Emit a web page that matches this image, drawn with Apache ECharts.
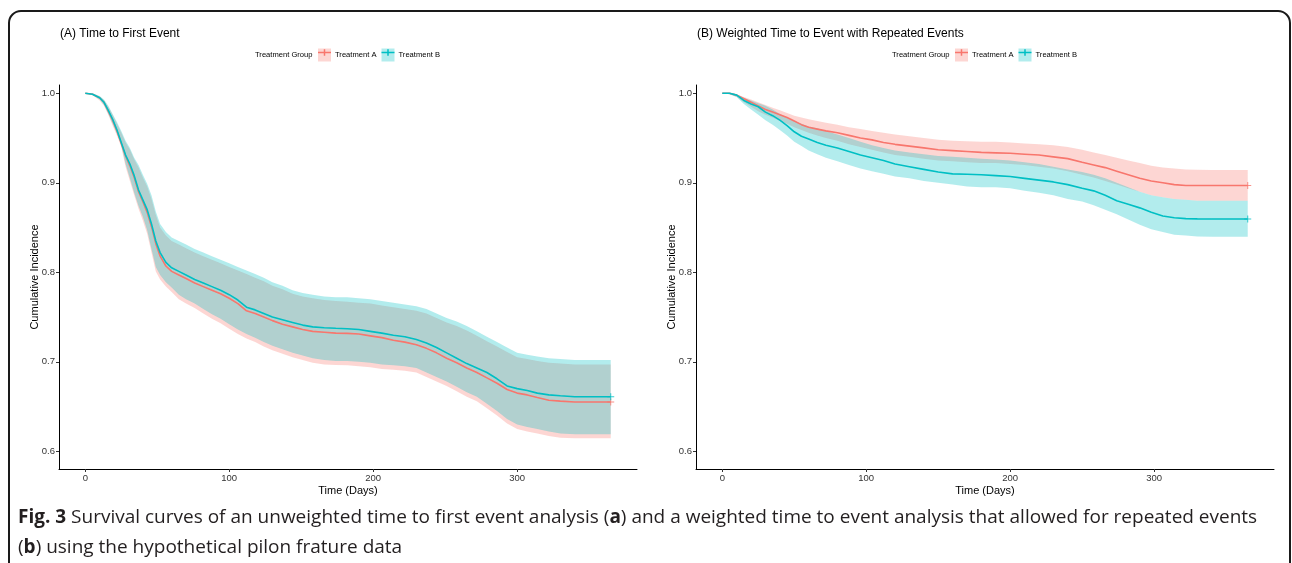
<!DOCTYPE html>
<html>
<head>
<meta charset="utf-8">
<script src="https://cdn.jsdelivr.net/npm/echarts@6/dist/echarts.min.js"></script>
<style>
  html, body { margin: 0; padding: 0; background: #fff; }
  #chart { width: 1292px; height: 563px; }
</style>
</head>
<body>
<div id="chart"></div>
<script>
// Panel A: time to first event
const timesA = [0,5,10,13,16,19,22,25,28,31,34,37,40,43,46,49,52,56,60,65,70,76,82,88,94,100,106,112,118,124,130,137,144,151,158,166,174,182,190,198,206,214,222,230,237,244,251,258,265,272,279,286,293,300,307,314,322,330,340,350,365];
const survA_trtA = [1.000,0.999,0.995,0.990,0.980,0.970,0.958,0.944,0.930,0.919,0.906,0.890,0.879,0.867,0.851,0.832,0.818,0.807,0.801,0.797,0.793,0.788,0.784,0.780,0.776,0.771,0.765,0.757,0.754,0.750,0.746,0.742,0.739,0.736,0.734,0.733,0.732,0.7318,0.731,0.729,0.727,0.724,0.722,0.719,0.715,0.710,0.704,0.699,0.693,0.688,0.682,0.676,0.669,0.665,0.663,0.660,0.657,0.656,0.655,0.655,0.655];
const upperA_trtA = [1.000,1.000,0.996,0.992,0.985,0.976,0.966,0.956,0.945,0.937,0.926,0.917,0.906,0.896,0.882,0.864,0.850,0.841,0.835,0.831,0.827,0.822,0.818,0.814,0.810,0.806,0.802,0.798,0.794,0.790,0.785,0.781,0.776,0.773,0.771,0.769,0.768,0.767,0.766,0.765,0.763,0.761,0.759,0.757,0.754,0.749,0.744,0.740,0.735,0.729,0.723,0.717,0.711,0.705,0.703,0.701,0.699,0.698,0.697,0.697,0.697];
const lowerA_trtA = [1.000,0.998,0.992,0.986,0.976,0.964,0.953,0.940,0.918,0.902,0.886,0.871,0.858,0.843,0.822,0.801,0.792,0.784,0.778,0.770,0.765,0.760,0.754,0.748,0.743,0.737,0.731,0.726,0.722,0.717,0.713,0.709,0.705,0.702,0.699,0.697,0.6964,0.696,0.695,0.694,0.692,0.691,0.690,0.688,0.683,0.678,0.673,0.667,0.661,0.656,0.648,0.640,0.631,0.625,0.622,0.620,0.617,0.615,0.6145,0.6145,0.6145];
const survA_trtB = [1.000,0.999,0.995,0.990,0.981,0.971,0.959,0.945,0.931,0.921,0.908,0.892,0.881,0.870,0.854,0.835,0.822,0.811,0.805,0.801,0.797,0.792,0.788,0.784,0.780,0.775,0.769,0.761,0.758,0.754,0.750,0.747,0.744,0.741,0.739,0.738,0.7374,0.737,0.736,0.734,0.732,0.7296,0.728,0.725,0.721,0.716,0.710,0.704,0.698,0.693,0.688,0.681,0.673,0.670,0.668,0.665,0.663,0.662,0.661,0.661,0.661];
const upperA_trtB = [1.000,1.000,0.997,0.993,0.986,0.977,0.968,0.958,0.947,0.939,0.928,0.920,0.909,0.899,0.886,0.868,0.854,0.845,0.839,0.835,0.831,0.826,0.822,0.818,0.814,0.810,0.806,0.802,0.798,0.794,0.789,0.785,0.780,0.777,0.775,0.773,0.772,0.772,0.771,0.770,0.768,0.766,0.764,0.762,0.759,0.754,0.749,0.745,0.740,0.734,0.728,0.722,0.716,0.710,0.708,0.706,0.704,0.703,0.702,0.702,0.702];
const lowerA_trtB = [1.000,0.998,0.993,0.987,0.977,0.966,0.955,0.942,0.921,0.905,0.889,0.874,0.862,0.847,0.826,0.806,0.797,0.789,0.783,0.775,0.770,0.765,0.759,0.753,0.748,0.742,0.736,0.731,0.727,0.722,0.718,0.714,0.710,0.707,0.704,0.702,0.701,0.701,0.700,0.699,0.697,0.696,0.695,0.693,0.688,0.683,0.678,0.672,0.666,0.661,0.653,0.645,0.636,0.630,0.627,0.625,0.622,0.620,0.619,0.619,0.619];

// Panel B: weighted time to event with repeated events
const timesB = [0,5,10,15,20,25,30,35,40,45,50,55,60,66,72,80,88,96,104,112,120,130,140,150,160,170,180,190,200,210,220,230,240,250,258,266,274,282,290,298,306,314,322,330,340,350,365];
const survB_trtA = [1.000,1.000,0.998,0.994,0.990,0.986,0.982,0.979,0.976,0.973,0.969,0.965,0.962,0.960,0.958,0.956,0.953,0.950,0.948,0.945,0.943,0.941,0.939,0.937,0.936,0.935,0.934,0.9335,0.933,0.932,0.931,0.929,0.927,0.923,0.920,0.917,0.913,0.909,0.905,0.902,0.900,0.898,0.897,0.897,0.897,0.897,0.897];
const upperB_trtA = [1.000,1.000,0.999,0.996,0.993,0.990,0.987,0.984,0.981,0.978,0.975,0.973,0.971,0.969,0.967,0.965,0.962,0.960,0.958,0.956,0.954,0.952,0.950,0.948,0.947,0.9465,0.946,0.946,0.945,0.944,0.943,0.942,0.940,0.937,0.934,0.931,0.928,0.925,0.922,0.919,0.917,0.916,0.915,0.9145,0.9143,0.9143,0.9143];
const lowerB_trtA = [1.000,0.999,0.996,0.990,0.985,0.980,0.976,0.973,0.969,0.966,0.962,0.959,0.956,0.953,0.950,0.947,0.943,0.940,0.937,0.934,0.931,0.929,0.927,0.925,0.924,0.923,0.922,0.922,0.921,0.920,0.918,0.916,0.913,0.909,0.906,0.902,0.898,0.894,0.890,0.886,0.884,0.882,0.881,0.880,0.880,0.880,0.880];
const survB_trtB = [1.000,1.000,0.998,0.992,0.988,0.985,0.979,0.975,0.970,0.964,0.957,0.952,0.949,0.945,0.942,0.939,0.935,0.931,0.928,0.925,0.921,0.918,0.915,0.912,0.910,0.9095,0.909,0.908,0.907,0.905,0.903,0.901,0.898,0.894,0.891,0.886,0.880,0.876,0.872,0.867,0.863,0.861,0.860,0.8597,0.8596,0.8596,0.8596];
const upperB_trtB = [1.000,1.000,0.999,0.995,0.992,0.989,0.986,0.982,0.977,0.973,0.969,0.966,0.963,0.961,0.958,0.954,0.950,0.946,0.942,0.939,0.936,0.934,0.932,0.930,0.929,0.928,0.927,0.926,0.925,0.923,0.921,0.918,0.915,0.912,0.909,0.905,0.900,0.895,0.890,0.886,0.884,0.882,0.881,0.880,0.880,0.880,0.880];
const lowerB_trtB = [1.000,0.999,0.996,0.988,0.982,0.976,0.970,0.965,0.959,0.953,0.946,0.941,0.936,0.932,0.928,0.924,0.920,0.916,0.913,0.910,0.907,0.905,0.902,0.900,0.898,0.896,0.895,0.895,0.894,0.891,0.889,0.886,0.882,0.879,0.875,0.870,0.865,0.859,0.853,0.848,0.845,0.842,0.841,0.840,0.8398,0.8398,0.8398];

const xTicks = [0, 100, 200, 300];
const yTicks = [0.6, 0.7, 0.8, 0.9, 1.0];
const groupNames = ["Treatment A", "Treatment B"];
const colors = ["#F8766D", "#00BFC4"];
const fills = ["rgba(248,118,109,0.3)", "rgba(0,191,196,0.3)"];

const FONT = "Liberation Sans, Arial, sans-serif";
const plusIcon = "path://M0,6h5.75v-2.5h1.5v2.5h5.75v1.5h-5.75v2.5h-1.5v-2.5h-5.75z";
const censorMark = "path://M3,0h1v3h3v1h-3v3h-1v-3h-3v-1h3z";

const panels = [
  { times: timesA, groups: [
    { surv: survA_trtA, lower: lowerA_trtA, upper: upperA_trtA },
    { surv: survA_trtB, lower: lowerA_trtB, upper: upperA_trtB } ] },
  { times: timesB, groups: [
    { surv: survB_trtA, lower: lowerB_trtA, upper: upperB_trtA },
    { surv: survB_trtB, lower: lowerB_trtB, upper: upperB_trtB } ] },
];

const pair = (xs, ys) => xs.map((x, i) => [x, ys[i]]);

// confidence ribbon: one polygon through the axis scales
function ribbon(pi, gi, rows) {
  return {
    type: "custom", xAxisIndex: pi, yAxisIndex: pi, silent: true, clip: true,
    data: rows,
    encode: { x: 0, y: [1, 2] },
    renderItem: (params, api) => {
      if (params.dataIndex !== 0) return null;
      const top = rows.map(r => api.coord([r[0], r[2]]));
      const bottom = rows.map(r => api.coord([r[0], r[1]])).reverse();
      return {
        type: "polygon",
        shape: { points: top.concat(bottom) },
        style: { fill: colors[gi], opacity: 0.3 },
      };
    },
  };
}

const series = [];
panels.forEach((p, pi) => {
  p.groups.forEach((g, gi) => {
    series.push(ribbon(pi, gi, p.times.map((t, i) => [t, g.lower[i], g.upper[i]])));
    series.push({
      name: groupNames[gi], type: "line", xAxisIndex: pi, yAxisIndex: pi,
      symbol: "none", lineStyle: { color: colors[gi], width: 1.6 },
      itemStyle: { color: colors[gi] },
      data: pair(p.times, g.surv),
    });
    const last = p.times.length - 1;
    series.push({
      type: "scatter", xAxisIndex: pi, yAxisIndex: pi, symbol: censorMark, symbolSize: 7,
      itemStyle: { color: colors[gi] }, silent: true,
      data: [[p.times[last], g.surv[last]]],
    });
  });
});

const gridLefts = [59, 696];
const grid = gridLefts.map(l => ({ left: l, top: 85, width: 578, height: 384 }));

const axisCommon = {
  axisLine: { onZero: false, lineStyle: { color: "#000", width: 1 } },
  axisTick: { length: 3, lineStyle: { color: "#333" } },
  splitLine: { show: false },
  nameMoveOverlap: false,
  nameTextStyle: { color: "#000", fontSize: 11, fontFamily: FONT },
};

const xAxis = gridLefts.map((l, i) => Object.assign({}, axisCommon, {
  type: "value", gridIndex: i, min: -18.25, max: 383.25,
  name: "Time (Days)", nameLocation: "middle", nameGap: 16,
  axisTick: Object.assign({}, axisCommon.axisTick, { customValues: xTicks }),
  axisLabel: { customValues: xTicks, color: "#333", fontSize: 9.5, margin: 4, fontFamily: FONT },
}));

const yAxis = gridLefts.map((l, i) => Object.assign({}, axisCommon, {
  type: "value", gridIndex: i, min: 0.5802, max: 1.0093,
  name: "Cumulative Incidence", nameLocation: "middle", nameGap: 19, nameRotate: 90,
  axisTick: Object.assign({}, axisCommon.axisTick, { customValues: yTicks }),
  axisLabel: { customValues: yTicks, color: "#333", fontSize: 9.5, margin: 4, fontFamily: FONT,
    formatter: v => v.toFixed(1) },
}));

const titles = [];
const panelTitles = ["(A) Time to First Event", "(B) Weighted Time to Event with Repeated Events"];
gridLefts.forEach((l, i) => {
  titles.push({ text: panelTitles[i], left: l + 1, top: 28, padding: 0,
    textStyle: { fontSize: 12, fontWeight: "normal", color: "#000", fontFamily: FONT } });
  titles.push({ text: "Treatment Group", left: l + 196, top: 50.5, padding: 0,
    textStyle: { fontSize: 7.6, fontWeight: "normal", color: "#000", fontFamily: FONT } });
});

const legend = [];
gridLefts.forEach((l, i) => {
  const base = { left: l + 259, top: 48.5, itemWidth: 13, itemHeight: 13, itemGap: 5,
    padding: 0, selectedMode: false, symbolKeepAspect: true,
    textStyle: { fontSize: 7.6, color: "#000", fontFamily: FONT, padding: [0, 0, 0, -1] } };
  legend.push(Object.assign({}, base, {
    data: groupNames.map((n, gi) => ({ name: n, icon: "rect",
      itemStyle: { color: fills[gi], borderWidth: 0 } })),
  }));
  legend.push(Object.assign({}, base, {
    textStyle: Object.assign({}, base.textStyle, { color: "rgba(0,0,0,0)" }),
    data: groupNames.map((n, gi) => ({ name: n, icon: plusIcon,
      itemStyle: { color: colors[gi], borderWidth: 0 } })),
  }));
});

const chart = echarts.init(document.getElementById("chart"), null, { renderer: "canvas" });
chart.setOption({
  animation: false,
  title: titles,
  legend: legend,
  grid: grid,
  xAxis: xAxis,
  yAxis: yAxis,
  series: series,
  graphic: [
    { type: "rect", silent: true, z: 100,
      shape: { x: 9, y: 11, width: 1281, height: 620, r: 12 },
      style: { fill: "none", stroke: "#1a1a1a", lineWidth: 2 } },
    { type: "text", left: 18, top: 503, silent: true,
      style: {
        text: "{b|Fig. 3} Survival curves of an unweighted time to first event analysis ({b|a}) and a weighted time to event analysis that allowed for repeated events\n({b|b}) using the hypothetical pilon frature data",
        fontSize: 19, lineHeight: 30, fill: "#231f20", fontFamily: "Open Sans, sans-serif",
        rich: { b: { fontWeight: "bold", fontSize: 19, lineHeight: 30, fill: "#231f20", fontFamily: "Open Sans, sans-serif" } },
      } },
  ],
});
</script>
</body>
</html>
